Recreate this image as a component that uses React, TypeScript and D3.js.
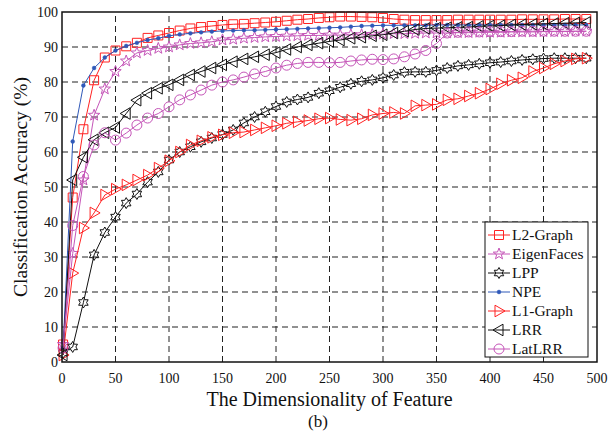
import React from "react"
import * as d3 from "d3"

// dimensionality sampled every 10
const dims = [1, ...d3.range(10, 500, 10)]

const l2Graph = [5, 47, 66.5, 80.5, 87, 89, 90.2, 91.2, 92.6, 93.3, 94, 94.7, 95.3, 95.7, 96, 96.3, 96.5, 96.6, 96.8, 97, 97.2, 97.5, 97.8, 98, 98.3, 98.5, 98.7, 98.7, 98.6, 98.5, 98.3, 98, 97.8, 97.7, 97.7, 97.7, 97.7, 97.8, 97.8, 97.8, 97.8, 97.8, 97.8, 97.9, 97.9, 97.9, 97.9, 98, 98, 98]
const eigenFaces = [5, 31, 52, 70.5, 78, 83, 86, 88.3, 89, 89.6, 90, 90.6, 91, 91.2, 91.5, 92, 92.2, 92.5, 92.7, 92.9, 93, 93.1, 93.2, 93.3, 93.3, 93.4, 93.4, 93.5, 93.5, 93.6, 93.7, 93.8, 93.8, 93.9, 94, 94, 94, 94.1, 94.1, 94.2, 94.2, 94.2, 94.3, 94.3, 94.3, 94.4, 94.4, 94.4, 94.5, 94.5]
const lpp = [2.6, 4.3, 17, 30.6, 37, 41.4, 45.4, 48, 51.4, 54.3, 57.7, 60, 61.5, 62.9, 64, 65, 66.3, 68.3, 70, 71.5, 73, 74.3, 75, 75.6, 76.8, 77.5, 78.5, 79.5, 80.2, 80.6, 81.2, 82, 82.8, 82.9, 82.9, 83.3, 84, 84.6, 84.9, 85.2, 85.5, 85.7, 86, 86.3, 86.5, 86.7, 86.8, 86.8, 86.8, 86.8]
const npe = [4, 63, 79, 84, 87, 89, 90.3, 91.2, 92, 92.5, 93.2, 93.6, 93.9, 94.2, 94.4, 94.6, 94.7, 94.8, 94.8, 94.9, 95, 95.1, 95.2, 95.3, 95.4, 95.5, 95.6, 95.8, 96, 96.1, 96.2, 96.2, 96.2, 96.2, 96.2, 96.3, 96.3, 96.3, 96.3, 96.3, 96.3, 96.3, 96.3, 96.3, 96.3, 96.3, 96.3, 96.3, 96.3, 96.3]
const l1Graph = [2, 25.4, 38.3, 42.6, 47.7, 49.4, 50.6, 52, 53.4, 55.4, 57.5, 60, 62, 63.2, 64.2, 64.9, 65.5, 65.7, 66.3, 66.9, 67.5, 68.2, 68.6, 69, 69.5, 69.7, 69.3, 69.1, 69.5, 70.6, 71, 71.3, 71, 73.2, 73.4, 73.6, 74.9, 75.2, 76, 76.8, 78, 79.5, 80.5, 81.2, 83, 84, 85.2, 86, 86.6, 86.8]
const lrr = [2, 52, 58.5, 63.5, 65.5, 67, 71, 74.8, 76.8, 78.2, 79.2, 80.6, 82, 83, 84, 84.9, 85.8, 86.6, 87.2, 87.8, 88.4, 89.3, 90, 90.6, 91.1, 91.6, 92, 92.5, 92.8, 93.2, 93.5, 94, 94.5, 95, 95.3, 95.4, 95.5, 95.6, 95.7, 95.9, 96, 96.1, 96.3, 96.4, 96.5, 96.6, 96.7, 96.8, 96.9, 97]
const latLrr = [4, 39, 53, 62, 65.5, 63.4, 65.4, 67.7, 69.7, 71, 72.9, 74.9, 76.3, 77.7, 79.1, 80, 80.6, 81.4, 82.3, 83, 84, 84.8, 85.3, 85.6, 85.6, 85.5, 85.6, 86, 86.3, 86.5, 86.4, 86.6, 87.2, 88, 89, 91, 94, 94.2, 94.3, 94.3, 94.4, 94.4, 94.4, 94.5, 94.5, 94.5, 94.5, 94.5, 94.5, 94.5]

const xTicks = [0, 50, 100, 150, 200, 250, 300, 350, 400, 450, 500]
const yTicks = [0, 10, 20, 30, 40, 50, 60, 70, 80, 90, 100]

const series = [
  { name: "L2-Graph", values: l2Graph, color: "#ff2222", marker: "square" },
  { name: "EigenFaces", values: eigenFaces, color: "#c555b8", marker: "pentagram" },
  { name: "LPP", values: lpp, color: "#111111", marker: "hexagram" },
  { name: "NPE", values: npe, color: "#2f58b8", marker: "dot" },
  { name: "L1-Graph", values: l1Graph, color: "#ff2222", marker: "triRight" },
  { name: "LRR", values: lrr, color: "#111111", marker: "triLeft" },
  { name: "LatLRR", values: latLrr, color: "#c555b8", marker: "circle" },
]

const FONT = "'Liberation Serif', 'Times New Roman', serif"

const starPath = (points, ro, ri) => {
  const pts = []
  for (let i = 0; i < points * 2; i++) {
    const r = i % 2 === 0 ? ro : ri
    const a = (Math.PI * i) / points - Math.PI / 2
    pts.push([r * Math.cos(a), r * Math.sin(a)])
  }
  return "M" + pts.map(p => p.join(",")).join("L") + "Z"
}

const markerPath = (kind) => {
  switch (kind) {
    case "square":
      return "M-4.5,-4.5L4.5,-4.5L4.5,4.5L-4.5,4.5Z"
    case "pentagram":
      return starPath(5, 6, 2.5)
    case "hexagram":
      return starPath(6, 5.5, 5.5 / Math.sqrt(3))
    case "triRight":
      return "M6,0L-4,-5.8L-4,5.8Z"
    case "triLeft":
      return "M-6,0L4,-5.8L4,5.8Z"
    default:
      return null
  }
}

const Marker = ({ kind, color, x, y }) => {
  if (kind === "circle")
    return <circle cx={x} cy={y} r={5} fill="none" stroke={color} strokeWidth={1} />
  if (kind === "dot")
    return <circle cx={x} cy={y} r={1.9} fill={color} stroke={color} strokeWidth={0.5} />
  return (
    <path
      d={markerPath(kind)}
      transform={`translate(${x},${y})`}
      fill="none"
      stroke={color}
      strokeWidth={1}
    />
  )
}

export default function App() {
  const x = d3.scaleLinear().domain([0, 500]).range([62, 597])
  const y = d3.scaleLinear().domain([0, 100]).range([362, 12])

  const line = d3
    .line<number>()
    .x((_, i) => x(dims[i]))
    .y(d => y(d))

  const legendX = 485
  const legendY = 222

  return (
    <svg width={613} height={447} style={{ position: "absolute", left: 0, top: 0 }}>
      <rect width={613} height={447} fill="white" />
      {/* grid */}
      {xTicks.slice(1, -1).map(t => (
        <line key={"gx" + t} x1={x(t)} x2={x(t)} y1={y(0)} y2={y(100)} stroke="#222" strokeWidth={1} strokeDasharray="6,4" />
      ))}
      {yTicks.slice(1, -1).map(t => (
        <line key={"gy" + t} x1={x(0)} x2={x(500)} y1={y(t)} y2={y(t)} stroke="#222" strokeWidth={1} strokeDasharray="6,4" />
      ))}

      {/* series */}
      {series.map(s => (
        <g key={s.name}>
          <path d={line(s.values)} fill="none" stroke={s.color} strokeWidth={1} />
          {s.values.map((v, i) => (
            <Marker key={i} kind={s.marker} color={s.color} x={x(dims[i])} y={y(v)} />
          ))}
        </g>
      ))}

      {/* frame */}
      <rect x={x(0)} y={y(100)} width={x(500) - x(0)} height={y(0) - y(100)} fill="none" stroke="#111" strokeWidth={1.5} />

      {/* tick labels */}
      {xTicks.map(t => (
        <text key={"tx" + t} x={x(t)} y={383} textAnchor="middle" fontFamily={FONT} fontSize={14} fill="#111">
          {t}
        </text>
      ))}
      {yTicks.map(t => (
        <text key={"ty" + t} x={58} y={y(t) + 5} textAnchor="end" fontFamily={FONT} fontSize={14} fill="#111">
          {t}
        </text>
      ))}

      <text x={(x(0) + x(500)) / 2} y={406} textAnchor="middle" fontFamily={FONT} fontSize={20} fill="#111">
        The Dimensionality of Feature
      </text>
      <text transform={`translate(27,${(y(0) + y(100)) / 2}) rotate(-90)`} textAnchor="middle" fontFamily={FONT} fontSize={19.5} fill="#111">
        Classification Accuracy (%)
      </text>
      <text x={318} y={427} textAnchor="middle" fontFamily={FONT} fontSize={17} fill="#111">
        (b)
      </text>

      {/* legend */}
      <rect x={legendX} y={legendY} width={103} height={135} fill="white" stroke="#111" strokeWidth={1} />
      {series.map((s, i) => {
        const ly = legendY + 13 + i * 19
        return (
          <g key={"lg" + s.name}>
            <line x1={legendX + 3} x2={legendX + 25} y1={ly} y2={ly} stroke={s.color} strokeWidth={1} />
            <Marker kind={s.marker} color={s.color} x={legendX + 14} y={ly} />
            <text x={legendX + 27} y={ly + 5} fontFamily={FONT} fontSize={15.5} fill="#111">
              {s.name}
            </text>
          </g>
        )
      })}
    </svg>
  )
}
